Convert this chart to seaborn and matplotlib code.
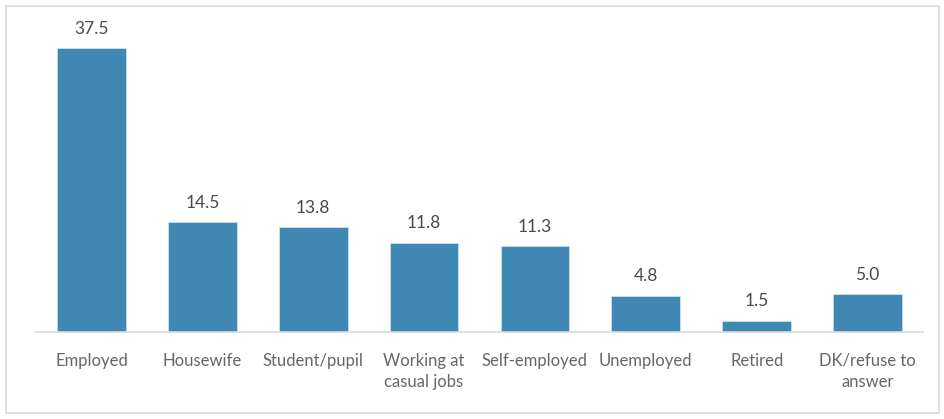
import matplotlib
matplotlib.use("Agg")
import matplotlib.pyplot as plt
from matplotlib.patches import Rectangle
import seaborn as sns
import pandas as pd

categories = ["Employed", "Housewife", "Student/pupil", "Working at\ncasual jobs",
              "Self-employed", "Unemployed", "Retired", "DK/refuse to\nanswer"]
values = [37.5, 14.5, 13.8, 11.8, 11.3, 4.8, 1.5, 5.0]

df = pd.DataFrame({"category": categories, "value": values})

sns.set_theme(style="white")
plt.rcParams["font.family"] = ["Lato", "DejaVu Sans"]

fig = plt.figure(figsize=(9.45, 4.19), dpi=100)
ax = fig.add_axes([0.0381, 0.2076, 0.9386, 0.7232])

sns.barplot(data=df, x="category", y="value", color="#3f88b4", saturation=1,
            width=0.62, edgecolor="#cfe0ec", linewidth=0.6, ax=ax)

for i, v in enumerate(values):
    ax.text(i, v + 1.5, f"{v:.1f}", ha="center", va="bottom",
            fontsize=12.5, color="#4a4a4a")

ax.set_ylim(0, 40)
ax.set_xlim(-0.5, len(categories) - 0.5)
ax.set_xlabel("")
ax.set_ylabel("")
ax.set_yticks([])
for side in ["top", "left", "right"]:
    ax.spines[side].set_visible(False)
ax.spines["bottom"].set_color("#d9d9d9")
ax.spines["bottom"].set_linewidth(1.2)
ax.tick_params(axis="x", length=0, pad=15, labelsize=12, colors="#666666")
for lbl in ax.get_xticklabels():
    lbl.set_linespacing(1.4)

fig.patches.append(Rectangle((0.006, 0.014), 0.988, 0.972, transform=fig.transFigure,
                             fill=False, edgecolor="#d9d9d9", linewidth=1.2))

fig.savefig("out.png", dpi=100)
